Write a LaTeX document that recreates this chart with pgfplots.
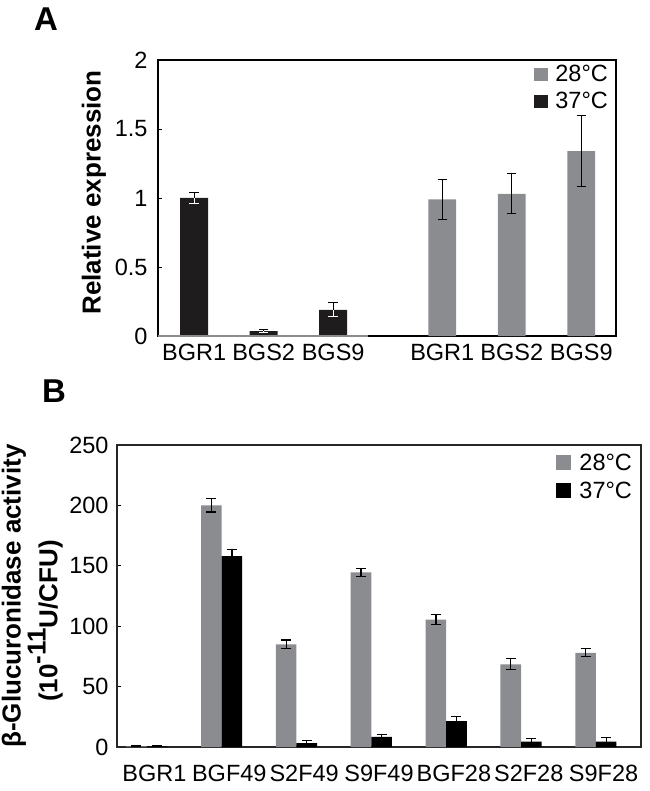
\documentclass[border=0pt]{standalone}
\usepackage{pgfplots}
\pgfplotsset{compat=1.18}
\usepackage{fontspec}
\setmainfont{Liberation Sans}
\definecolor{barg}{RGB}{139,140,144}
\definecolor{barb}{RGB}{30,28,29}
\newcommand{\tickfont}{\fontsize{23.5}{25}\selectfont}
\newcommand{\labfont}{\fontsize{26}{24}\selectfont\bfseries}
\begin{document}
\begin{tikzpicture}[x=1pt,y=1pt]
\useasboundingbox (0,0) rectangle (649,-791);
\node[font=\fontsize{33}{33}\selectfont\bfseries] at (46,-19) {A};
\node[font=\fontsize{33}{33}\selectfont\bfseries] at (54,-391) {B};

% ---------------- Panel A ----------------
\begin{axis}[
  at={(158pt,-336pt)}, anchor=south west,
  scale only axis, width=458pt, height=276pt,
  xmin=-0.52, xmax=6.07, ymin=0, ymax=2,
  ytick={0,0.5,1,1.5,2}, yticklabels={0,0.5,1,1.5,2},
  xtick={0,1,2,3.57,4.57,5.57},
  xticklabels={BGR1,BGS2,BGS9,BGR1,BGS2,BGS9},
  xtick style={draw=none},
  ytick pos=left, tick align=inside, major tick length=4pt,
  ytick style={black, line width=0.8pt},
  tick label style={font=\tickfont},
  /pgf/number format/assume math mode=true,
  xticklabel style={yshift=-5pt},
  yticklabel style={xshift=-7pt},
  axis line style={black, line width=1.6pt},
  ylabel={Relative expression},
  ylabel style={font=\labfont, at={(axis description cs:-0.14,0.52)}, anchor=center},
  legend style={at={(axis description cs:0.985,0.985)}, anchor=north east, draw=none, fill=none,
    font=\tickfont, row sep=7pt, inner sep=0pt, nodes={inner sep=1pt}},
  legend cell align=left,
]
\addplot[ybar, bar width=0.4, bar shift=0pt, fill=barg, draw=none,
  legend image code/.code={\fill[barg] (0pt,-6.5pt) rectangle (14pt,6.5pt); \path (20pt,0pt);},
  error bars/.cd, y dir=both, y explicit,
  error bar style={black, line width=1.1pt},
  error mark options={rotate=90, black, mark size=4.7pt, line width=1.1pt}]
  coordinates {(3.57,0.99) +- (0,0.145) (4.57,1.03) +- (0,0.145) (5.57,1.34) +- (0,0.255)};
\addlegendentry{28°C}
\addplot[ybar, bar width=0.4, bar shift=0pt, fill=barb, draw=none,
  legend image code/.code={\fill[barb] (0pt,-6.5pt) rectangle (14pt,6.5pt); \path (20pt,0pt);},
  error bars/.cd, y dir=plus, y explicit,
  error bar style={black, line width=1.1pt},
  error mark options={rotate=90, black, mark size=4.7pt, line width=1.1pt}]
  coordinates {(0,1.00) +- (0,0.04) (1,0.035) +- (0,0.01) (2,0.19) +- (0,0.05)};
\addlegendentry{37°C}
\addplot[forget plot, draw=none, mark=none,
  error bars/.cd, y dir=minus, y explicit,
  error bar style={draw=white, line width=1.1pt},
  error mark options={rotate=90, draw=white, mark size=4.7pt, line width=1.1pt}]
  coordinates {(0,1.00) +- (0,0.04) (1,0.035) +- (0,0.01) (2,0.19) +- (0,0.05)};
\addplot[forget plot, draw=barg, line width=1.8pt, mark=none] coordinates {(-0.52,0) (2.5,0)};
\end{axis}

% ---------------- Panel B ----------------
\begin{axis}[
  at={(117pt,-747pt)}, anchor=south west,
  scale only axis, width=524pt, height=302pt,
  xmin=-0.5, xmax=6.5, ymin=0, ymax=250,
  ytick={0,50,100,150,200,250}, yticklabels={0,50,100,150,200,250},
  xtick={0,1,2,3,4,5,6},
  xticklabels={BGR1,BGF49,S2F49,S9F49,BGF28,S2F28,S9F28},
  xtick style={draw=none},
  ytick pos=left, tick align=inside, major tick length=4pt,
  ytick style={black, line width=0.8pt},
  tick label style={font=\tickfont},
  /pgf/number format/assume math mode=true,
  xticklabel style={yshift=-15pt},
  yticklabel style={xshift=-5pt},
  axis line style={black!85, line width=1.1pt},
  ylabel={\begin{tabular}{c}β-Glucuronidase activity\\(10\raisebox{0.45em}{-11}U/CFU)\hspace*{50pt}\end{tabular}},
  ylabel style={font=\labfont, at={(axis description cs:-0.16,0.5)}, anchor=center},
  legend style={at={(axis description cs:0.985,0.975)}, anchor=north east, draw=none, fill=none,
    font=\tickfont, row sep=8pt, inner sep=0pt, nodes={inner sep=1pt}},
  legend cell align=left,
]
% 28 C series: bars drawn at category - 0.24
\addplot[ybar, bar width=0.275, bar shift=0pt, fill=barg, draw=none,
  legend image code/.code={\fill[barg] (0pt,-7.5pt) rectangle (15pt,7.5pt); \path (22pt,0pt);},
  error bars/.cd, y dir=both, y explicit,
  error bar style={black, line width=1.3pt},
  error mark options={rotate=90, black, mark size=5pt, line width=1.3pt}]
  coordinates {(-0.24,0.5) +- (0,0.3) (0.76,200) +- (0,5.5) (1.76,85) +- (0,3.5) (2.76,144.5) +- (0,3.3)
               (3.76,105.5) +- (0,4) (4.76,68.5) +- (0,4.5) (5.76,78) +- (0,3.3)};
\addlegendentry{28°C}
% 37 C series: bars drawn at category + 0.035
\addplot[ybar, bar width=0.275, bar shift=0pt, fill=black, draw=none,
  legend image code/.code={\fill[black] (0pt,-7.5pt) rectangle (15pt,7.5pt); \path (22pt,0pt);},
  error bars/.cd, y dir=both, y explicit,
  error bar style={black, line width=1.3pt},
  error mark options={rotate=90, black, mark size=5pt, line width=1.3pt}]
  coordinates {(0.035,0.5) +- (0,0.3) (1.035,158) +- (0,5.5) (2.035,3.3) +- (0,2) (3.035,8.3) +- (0,2)
               (4.035,21.5) +- (0,3.5) (5.035,4.5) +- (0,2.3) (6.035,4.5) +- (0,3.5)};
\addlegendentry{37°C}
\end{axis}
\end{tikzpicture}
\end{document}
